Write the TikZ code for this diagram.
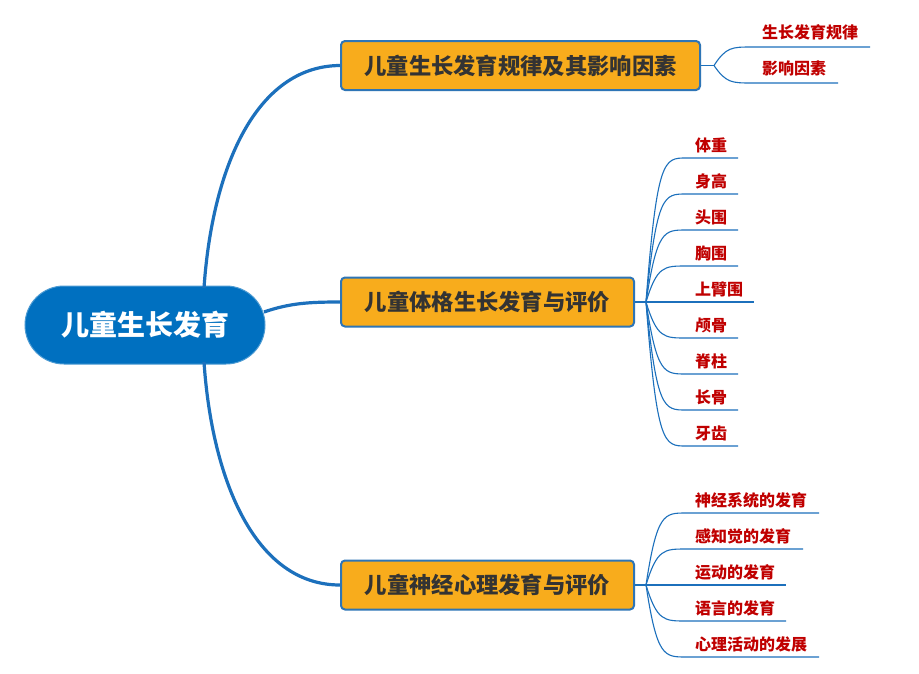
\documentclass[tikz,border=0pt]{standalone}
\usepackage{fontspec}
\newfontfamily\cjk{Noto Sans CJK SC}
\definecolor{rootblue}{RGB}{0,112,192}
\definecolor{linkblue}{RGB}{28,112,188}
\definecolor{boxorange}{RGB}{248,172,28}
\definecolor{boxborder}{RGB}{46,117,182}
\definecolor{leafred}{RGB}{192,0,0}
\definecolor{txtdark}{RGB}{51,51,51}
\begin{document}
\begin{tikzpicture}[x=1pt,y=-1pt,
  rootnode/.style={fill=rootblue, draw=rootblue!70!white, line width=1pt, rounded corners=39pt,
     minimum width=240pt, minimum height=78pt, inner sep=0pt,
     text=white, font=\cjk\bfseries\fontsize{28}{28}\selectfont},
  branchnode/.style={fill=boxorange, draw=boxborder, line width=2pt, rounded corners=4pt,
     minimum height=49pt, inner sep=0pt, text=txtdark,
     font=\cjk\bfseries\fontsize{22.3}{23}\selectfont},
  leafnode/.style={anchor=south west, inner sep=2pt, text=leafred,
     font=\cjk\bfseries\fontsize{16}{16}\selectfont},
  mainlink/.style={draw=linkblue, line width=3.2pt},
  leaflink/.style={draw=linkblue, line width=1.1pt},
]
\useasboundingbox (0,0) rectangle (919,673);
\fill[white] (0,0) rectangle (919,673);

% root
\node[rootnode] (root) at (145,325) {儿童生长发育};

% branches
\node[branchnode, minimum width=359pt] (b1) at (520.5,65.5) {儿童生长发育规律及其影响因素};
\node[branchnode, minimum width=293pt] (b2) at (487.5,302) {儿童体格生长发育与评价};
\node[branchnode, minimum width=293pt] (b3) at (487.5,585) {儿童神经心理发育与评价};

% main connectors
\coordinate (rt) at (204,288);
\coordinate (rm) at (264,312);
\coordinate (rb) at (204,362);
\draw[mainlink] (rt) .. controls (212,170) and (255,66) .. (b1.west);
\draw[mainlink] (rm) .. controls (290,303) and (310,302) .. (b2.west);
\draw[mainlink] (rb) .. controls (212,480) and (255,585) .. (b3.west);

% hubs
\coordinate (h1) at (714,65.5);
\coordinate (h2) at (646,302);
\coordinate (h3) at (646,585);
\draw[leaflink] (b1.east) -- (h1);
\draw[leaflink] (b2.east) -- (h2);
\draw[leaflink] (b3.east) -- (h3);

% branch 1 leaves
\foreach \i/\y/\e/\t in {1/47/870/生长发育规律, 2/83/838/影响因素}{
  \coordinate (a\i s) at (752,\y);
  \coordinate (a\i e) at (\e,\y);
  \node[leafnode] (a\i) at (760,\y-5) {\t};
  \draw[leaflink] (h1) .. controls (726,\y) and (732,\y) .. (a\i s) -- (a\i e);
}

% branch 2 leaves
\foreach \i/\y/\e/\t in {1/158/738/体重, 2/194/738/身高, 3/230/738/头围, 4/266/738/胸围,
    5/302/754/上臂围, 6/338/738/颅骨, 7/374/738/脊柱, 8/410/738/长骨, 9/446/738/牙齿}{
  \coordinate (c\i s) at (686,\y);
  \coordinate (c\i e) at (\e,\y);
  \node[leafnode] (c\i) at (693,\y-3) {\t};
  \draw[leaflink] (h2) .. controls (657,\y) and (664,\y) .. (c\i s) -- (c\i e);
}

% branch 3 leaves
\foreach \i/\y/\e/\t in {1/513/819/神经系统的发育, 2/549/803/感知觉的发育, 3/585/786/运动的发育,
    4/621/786/语言的发育, 5/657/819/心理活动的发展}{
  \coordinate (d\i s) at (686,\y);
  \coordinate (d\i e) at (\e,\y);
  \node[leafnode] (d\i) at (693,\y-3) {\t};
  \draw[leaflink] (h3) .. controls (657,\y) and (664,\y) .. (d\i s) -- (d\i e);
}
\end{tikzpicture}
\end{document}
